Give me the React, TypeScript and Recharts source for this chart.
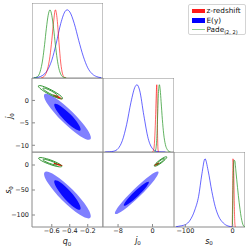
import React from 'react';
import { ComposedChart, Line, Scatter, XAxis, YAxis, ReferenceArea } from 'recharts';

// ---- axis ranges & ticks ----
const q0Domain: [number, number] = [-0.82, -0.03];
const j0Domain: [number, number] = [-11.5, 5];
const s0Domain: [number, number] = [-124, 26];
const pdfDomain: [number, number] = [0, 1.1];
const q0Ticks = [-0.6, -0.4, -0.2];
const j0TicksX = [-8, 0];
const j0TicksY = [-10, -5, 0];
const s0TicksX = [-100, 0];
const s0TicksY = [-100, -50, 0];

const legendNames = ['z-redshift', 'E(y)', 'Pade'];

// ---- 1D marginals: [value, normalized density] ----
const q0Blue = [[-0.8, 0.003], [-0.75, 0.012], [-0.7, 0.04], [-0.65, 0.11], [-0.6, 0.26], [-0.55, 0.51], [-0.5, 0.8], [-0.45, 0.98], [-0.43, 1.0], [-0.4, 0.97], [-0.35, 0.8], [-0.3, 0.55], [-0.25, 0.32], [-0.2, 0.15], [-0.15, 0.06], [-0.1, 0.02], [-0.05, 0.005]];
const q0Red = [[-0.72, 0], [-0.7, 0.01], [-0.67, 0.05], [-0.64, 0.17], [-0.62, 0.32], [-0.6, 0.55], [-0.58, 0.82], [-0.56, 1.0], [-0.54, 0.86], [-0.52, 0.52], [-0.5, 0.22], [-0.48, 0.06], [-0.46, 0.01], [-0.44, 0]];
const q0Green = [[-0.8, 0.002], [-0.76, 0.02], [-0.73, 0.09], [-0.7, 0.28], [-0.68, 0.49], [-0.66, 0.73], [-0.64, 0.92], [-0.62, 1.0], [-0.6, 0.92], [-0.58, 0.73], [-0.56, 0.49], [-0.54, 0.28], [-0.52, 0.135], [-0.5, 0.056], [-0.47, 0.011], [-0.44, 0.002]];

const j0Blue = [[-11, 0], [-10, 0.003], [-9, 0.012], [-8, 0.05], [-7, 0.17], [-6, 0.41], [-5, 0.74], [-4, 0.975], [-3.6, 1.0], [-3, 0.92], [-2, 0.54], [-1, 0.2], [0, 0.05], [1, 0.008], [2, 0.001], [3, 0]];
const j0Red = [[0, 0], [0.3, 0.04], [0.5, 0.18], [0.7, 0.48], [0.85, 0.8], [1.0, 1.0], [1.1, 0.65], [1.2, 0.2], [1.3, 0.03], [1.45, 0]];
const j0Green = [[0.5, 0], [0.8, 0.05], [1.0, 0.2], [1.2, 0.55], [1.4, 0.9], [1.6, 1.0], [1.8, 0.92], [2.0, 0.75], [2.3, 0.48], [2.6, 0.27], [3.0, 0.11], [3.4, 0.04], [3.8, 0.01], [4.2, 0]];

const s0Blue = [[-120, 0.003], [-115, 0.01], [-100, 0.035], [-90, 0.1], [-80, 0.25], [-72, 0.45], [-65, 0.78], [-58.5, 1.0], [-52, 0.83], [-44, 0.52], [-37, 0.3], [-30, 0.16], [-20, 0.06], [-10, 0.015], [0, 0.002]];
const s0Red = [[-1, 0], [0, 0.55], [0.6, 1.0], [1.5, 0.96], [2.5, 0.7], [3.5, 0.3], [4.5, 0.06], [5.5, 0]];
const s0Green = [[-0.5, 0], [0.3, 0.35], [1.5, 0.8], [3, 0.98], [4.5, 0.97], [6.5, 0.84], [8.5, 0.7], [12, 0.46], [15.5, 0.26], [18, 0.14], [20.5, 0.06], [23, 0.015], [25.5, 0.002]];

// ---- 2D contours: outline vertices [x, y] ----
const q0j0BlueOuter = [[-0.142, -9.22], [-0.183, -6.75], [-0.365, -2.45], [-0.583, 1.14], [-0.709, 1.94], [-0.669, -0.54], [-0.486, -4.83], [-0.268, -8.43]];
const q0j0BlueInner = [[-0.267, -7.0], [-0.288, -5.54], [-0.389, -3.04], [-0.512, -0.95], [-0.585, -0.5], [-0.564, -1.96], [-0.462, -4.47], [-0.339, -6.56]];
const q0j0GreenOuter = [[-0.466, 0.26], [-0.519, 0.35], [-0.629, 1.3], [-0.73, 2.56], [-0.763, 3.39], [-0.71, 3.31], [-0.6, 2.36], [-0.499, 1.1]];
const q0j0GreenInner = [[-0.522, 0.86], [-0.555, 0.91], [-0.623, 1.5], [-0.686, 2.28], [-0.707, 2.8], [-0.673, 2.75], [-0.606, 2.16], [-0.543, 1.37]];
const q0j0RedOuter = [[-0.476, 0.22], [-0.499, 0.18], [-0.544, 0.49], [-0.585, 0.97], [-0.598, 1.33], [-0.576, 1.37], [-0.53, 1.06], [-0.489, 0.59]];
const q0j0RedInner = [[-0.5, 0.44], [-0.514, 0.42], [-0.541, 0.61], [-0.566, 0.89], [-0.574, 1.11], [-0.56, 1.13], [-0.533, 0.95], [-0.508, 0.66]];

const q0s0BlueOuter = [[-0.145, -110.6], [-0.181, -87.5], [-0.361, -48.3], [-0.579, -16.0], [-0.707, -9.4], [-0.67, -32.5], [-0.49, -71.7], [-0.273, -104.0]];
const q0s0BlueInner = [[-0.267, -91.9], [-0.286, -77.6], [-0.387, -53.0], [-0.51, -32.5], [-0.585, -28.1], [-0.565, -42.4], [-0.465, -67.0], [-0.341, -87.5]];
const q0s0GreenOuter = [[-0.474, -3.6], [-0.522, -4.2], [-0.626, 1.0], [-0.725, 8.9], [-0.76, 14.8], [-0.712, 15.4], [-0.608, 10.2], [-0.509, 2.3]];
const q0s0GreenInner = [[-0.528, -0.1], [-0.558, -0.4], [-0.623, 2.8], [-0.684, 7.7], [-0.706, 11.3], [-0.676, 11.6], [-0.611, 8.4], [-0.55, 3.5]];
const q0s0Red = [[-0.475, -1.6], [-0.493, -2.2], [-0.533, -0.9], [-0.571, 1.5], [-0.585, 3.6], [-0.567, 4.2], [-0.527, 2.9], [-0.489, 0.5]];

const j0s0BlueOuter = [[1.9, -9.0], [0.85, -27.6], [-2.85, -62.6], [-7.01, -93.5], [-9.22, -102.2], [-8.17, -83.6], [-4.47, -48.6], [-0.31, -17.7]];
const j0s0BlueInner = [[-0.55, -31.1], [-1.14, -41.8], [-3.26, -61.7], [-5.66, -79.2], [-6.95, -83.9], [-6.36, -73.2], [-4.24, -53.3], [-1.84, -35.8]];
const j0s0GreenOuter = [[3.46, 17.2], [3.16, 12.3], [2.12, 4.2], [0.92, -2.2], [0.28, -3.2], [0.58, 1.8], [1.62, 9.8], [2.82, 16.2]];
const j0s0GreenInner = [[2.85, 13.3], [2.67, 10.3], [2.02, 5.3], [1.28, 1.3], [0.89, 0.7], [1.07, 3.7], [1.72, 8.7], [2.46, 12.7]];
const j0s0Red = [[1.64, 4.8], [1.53, 2.7], [1.11, 0.0], [0.62, -1.9], [0.36, -1.8], [0.47, 0.3], [0.89, 3.0], [1.38, 4.9]];

// ---- styling ----
const SPINE = '#8a8a8a';
const FONT = 'DejaVu Sans';
const TICK = { fontSize: 6.5, fill: '#222', fontFamily: FONT };
const C = {
  blueLine: '#0000ff', redLine: '#ff0000', greenLine: '#2e9a2e',
  blueOuter: '#8080ff', blueInner: '#0a0aff', redOuter: '#ff7070', redInner: '#ff0000', green: '#1f8a1f',
};

const pts = (a: number[][]) => a.map(([x, y]) => ({ x, y }));
const fmt = (v: number) => String(v).replace('-', '\u2212');

type PanelProps = {
  left: number; top: number; w: number; h: number;
  xDomain: [number, number]; yDomain: [number, number];
  xTicks: number[]; yTicks?: number[];
  xLabels?: boolean; yLabels?: boolean;
  children: React.ReactNode;
};

function Panel({ left, top, w, h, xDomain, yDomain, xTicks, yTicks, xLabels, yLabels, children }: PanelProps) {
  const hasY = !!yTicks;
  const yW = hasY ? (yLabels ? 32 : 1) : 0;
  const xH = xLabels ? 14 : 1;
  const cw = w + yW;
  const ch = h + xH;
  return (
    <div style={{ position: 'absolute', left: left - yW, top, width: cw, height: ch }}>
      <ComposedChart width={cw} height={ch} margin={{ top: 0, right: 0, bottom: 0, left: 0 }}>
        <XAxis type="number" dataKey="x" domain={xDomain} ticks={xTicks} interval={0} allowDataOverflow height={xH}
          axisLine={false} tickLine={{ stroke: SPINE }} tickSize={-3} tickMargin={4.5}
          tick={xLabels ? TICK : false} tickFormatter={fmt} />
        {hasY ? (
          <YAxis type="number" dataKey="y" domain={yDomain} ticks={yTicks} interval={0} allowDataOverflow width={yW}
            axisLine={false} tickLine={{ stroke: SPINE }} tickSize={-3} tickMargin={6}
            tick={yLabels ? TICK : false} tickFormatter={fmt} />
        ) : (
          <YAxis type="number" dataKey="y" domain={yDomain} allowDataOverflow hide />
        )}
        {children}
        <ReferenceArea x1={xDomain[0]} x2={xDomain[1]} y1={yDomain[0]} y2={yDomain[1]} ifOverflow="visible"
          fill="none" stroke={SPINE} strokeWidth={1} />
      </ComposedChart>
    </div>
  );
}

const curve = (key: string, d: number[][], color: string, op = 0.6) => (
  <Line key={key} data={pts(d)} dataKey="y" type="monotone" stroke={color} strokeOpacity={op} strokeWidth={1}
    dot={false} activeDot={false} isAnimationActive={false} />
);

const region = (key: string, d: number[][], fill: string, stroke = 'none', sw = 0) => (
  <Scatter key={key} data={pts(d)} line={{ fill, stroke, strokeWidth: sw }} lineType="joint" lineJointType="basisClosed"
    shape={() => <g />} isAnimationActive={false} />
);

function AxisTitle({ sym, x, y, rotate }: { sym: string; x: number; y: number; rotate?: boolean }) {
  return (
    <div style={{
      position: 'absolute', left: x, top: y, transform: `translate(-50%, -50%)${rotate ? ' rotate(-90deg)' : ''}`,
      fontFamily: FONT, fontSize: 8, fontStyle: 'italic', lineHeight: '9px', whiteSpace: 'nowrap', color: '#111',
    }}>
      {sym}<span style={{ fontSize: 5.5, fontStyle: 'normal', position: 'relative', top: 1.5 }}>0</span>
    </div>
  );
}

function LegendBox() {
  const row = (i: number, swatch: React.ReactNode, label: React.ReactNode) => (
    <div key={i} style={{ position: 'absolute', left: 0, top: 1 + i * 9.6, height: 9, width: '100%' }}>
      <div style={{ position: 'absolute', left: 2.5, top: 2.5, width: 13, height: 4 }}>{swatch}</div>
      <div style={{ position: 'absolute', left: 17.5, top: 0, fontSize: 7.3, lineHeight: '9px', whiteSpace: 'nowrap', color: '#111' }}>{label}</div>
    </div>
  );
  return (
    <div style={{
      position: 'absolute', left: 188, top: 4, width: 58, height: 31, border: '1px solid #d4d4d4', borderRadius: 2,
      background: '#fff', fontFamily: FONT, boxSizing: 'border-box',
    }}>
      {row(0, <div style={{ width: 13, height: 4.5, background: '#ff1a1a' }} />, legendNames[0])}
      {row(1, <div style={{ width: 13, height: 4.5, background: '#0000ff' }} />, legendNames[1])}
      {row(2, <div style={{ width: 13, height: 1.2, marginTop: 1.6, background: '#8fd08f' }} />,
        <span>{legendNames[2]}<span style={{ fontSize: 5, position: 'relative', top: 1.5 }}>(2, 2)</span></span>)}
    </div>
  );
}

export default function App() {
  const cx = [32, 103, 174];
  const ry = [3, 78, 152];
  const W = 71;
  const H = [75, 74, 75];
  return (
    <div style={{ position: 'absolute', left: 0, top: 0, width: 249, height: 249, background: '#fff', overflow: 'hidden' }}>
      {/* q0 marginal */}
      <Panel left={cx[0]} top={ry[0]} w={W} h={H[0]} xDomain={q0Domain} yDomain={pdfDomain} xTicks={q0Ticks}>
        {curve('b', q0Blue, C.blueLine)}
        {curve('r', q0Red, C.redLine)}
        {curve('g', q0Green, C.greenLine, 0.75)}
      </Panel>

      {/* q0 vs j0 */}
      <Panel left={cx[0]} top={ry[1]} w={W} h={H[1]} xDomain={q0Domain} yDomain={j0Domain} xTicks={q0Ticks} yTicks={j0TicksY} yLabels>
        {region('bo', q0j0BlueOuter, C.blueOuter)}
        {region('bi', q0j0BlueInner, C.blueInner)}
        {region('ro', q0j0RedOuter, C.redOuter)}
        {region('ri', q0j0RedInner, C.redInner)}
        {region('go', q0j0GreenOuter, 'none', C.green, 0.9)}
        {region('gi', q0j0GreenInner, 'none', C.green, 0.9)}
      </Panel>

      {/* j0 marginal */}
      <Panel left={cx[1]} top={ry[1]} w={W} h={H[1]} xDomain={j0Domain} yDomain={pdfDomain} xTicks={j0TicksX}>
        {curve('b', j0Blue, C.blueLine)}
        {curve('r', j0Red, C.redLine)}
        {curve('g', j0Green, C.greenLine, 0.75)}
      </Panel>

      {/* q0 vs s0 */}
      <Panel left={cx[0]} top={ry[2]} w={W} h={H[2]} xDomain={q0Domain} yDomain={s0Domain} xTicks={q0Ticks} yTicks={s0TicksY} xLabels yLabels>
        {region('bo', q0s0BlueOuter, C.blueOuter)}
        {region('bi', q0s0BlueInner, C.blueInner)}
        {region('r', q0s0Red, C.redInner)}
        {region('go', q0s0GreenOuter, 'none', C.green, 0.9)}
        {region('gi', q0s0GreenInner, 'none', C.green, 0.9)}
      </Panel>

      {/* j0 vs s0 */}
      <Panel left={cx[1]} top={ry[2]} w={W} h={H[2]} xDomain={j0Domain} yDomain={s0Domain} xTicks={j0TicksX} yTicks={s0TicksY} xLabels>
        {region('bo', j0s0BlueOuter, C.blueOuter)}
        {region('bi', j0s0BlueInner, C.blueInner)}
        {region('r', j0s0Red, C.redInner)}
        {region('go', j0s0GreenOuter, 'none', C.green, 0.9)}
        {region('gi', j0s0GreenInner, 'none', C.green, 0.9)}
      </Panel>

      {/* s0 marginal */}
      <Panel left={cx[2]} top={ry[2]} w={W} h={H[2]} xDomain={s0Domain} yDomain={pdfDomain} xTicks={s0TicksX} xLabels>
        {curve('b', s0Blue, C.blueLine)}
        {curve('r', s0Red, C.redLine)}
        {curve('g', s0Green, C.greenLine, 0.75)}
      </Panel>

      <AxisTitle sym="q" x={67} y={242} />
      <AxisTitle sym="j" x={138} y={241} />
      <AxisTitle sym="s" x={209} y={241.5} />
      <AxisTitle sym="j" x={10} y={116} rotate />
      <AxisTitle sym="s" x={9} y={190} rotate />

      <LegendBox />
    </div>
  );
}
